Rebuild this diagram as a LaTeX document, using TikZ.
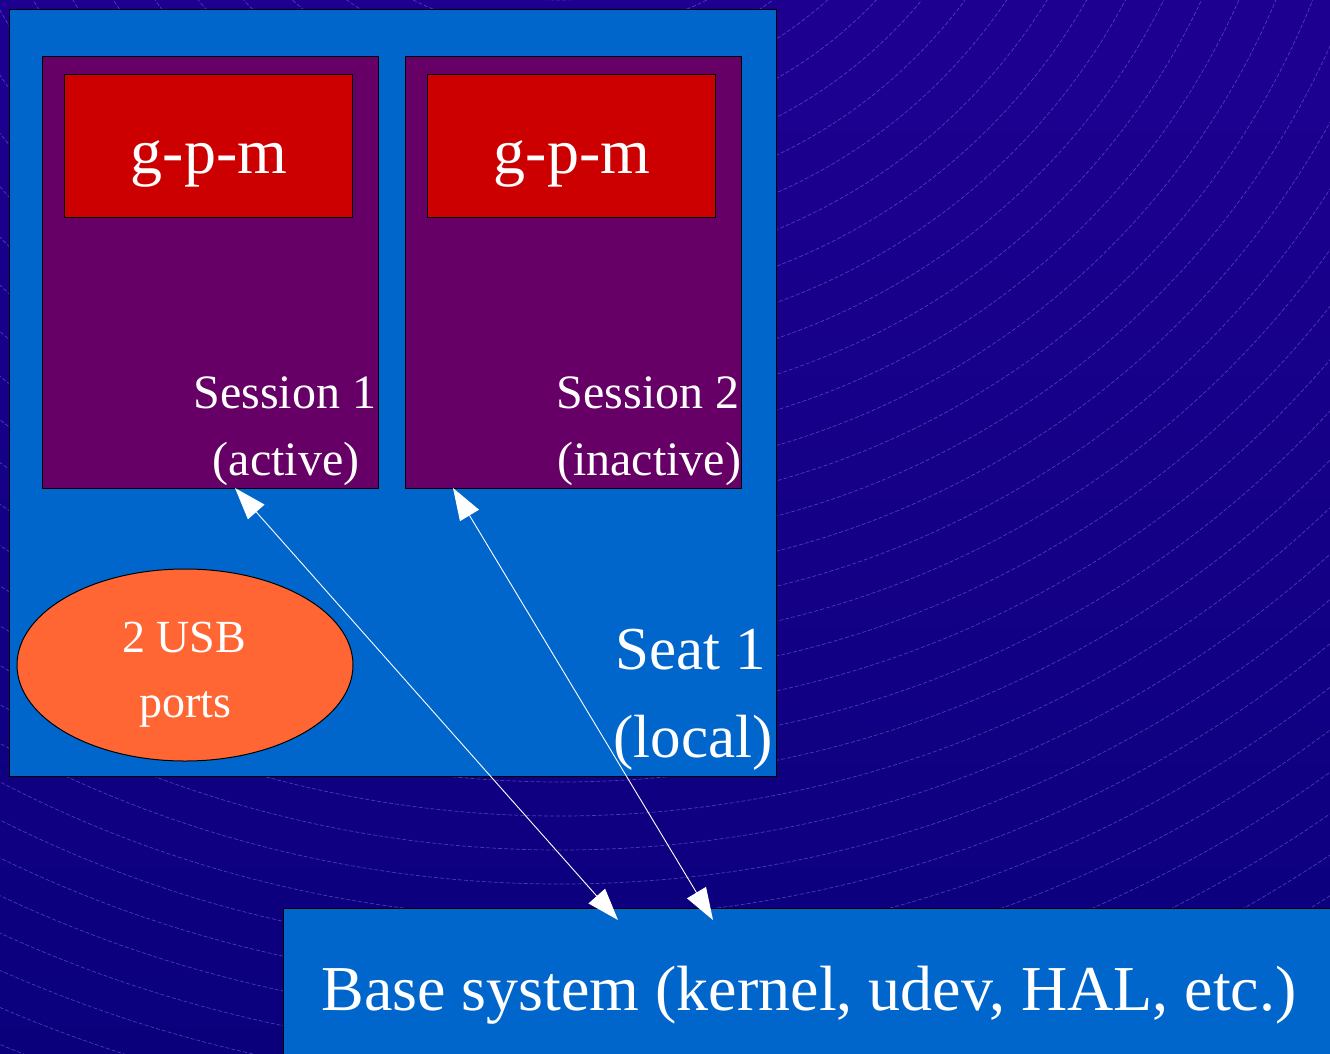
\documentclass[tikz,border=0pt]{standalone}
\usepackage{fontspec}
\setmainfont{Liberation Serif}
\usetikzlibrary{arrows.meta,shapes.geometric}

\definecolor{seatblue}{HTML}{0066CC}
\definecolor{sessionpurple}{HTML}{660066}
\definecolor{gpmred}{HTML}{CC0000}
\definecolor{usborange}{HTML}{FF6633}
\definecolor{bgtop}{RGB}{30,0,145}
\definecolor{bgbottom}{RGB}{10,0,124}
\definecolor{ripple}{RGB}{150,130,230}

\tikzset{
  panel/.style={draw=black, line width=1pt, inner sep=0pt, outer sep=0pt, anchor=north west},
  seatbox/.style={panel, fill=seatblue},
  sessionbox/.style={panel, fill=sessionpurple, minimum width=336pt, minimum height=432pt},
  gpmbox/.style={panel, fill=gpmred, minimum width=288pt, minimum height=143pt},
  usbport/.style={ellipse, draw=black, line width=1pt, fill=usborange, inner sep=0pt,
    minimum width=336pt, minimum height=192pt},
  whitetext/.style={text=white, inner sep=0pt, anchor=base},
  gpmtext/.style={whitetext, font=\fontsize{64}{70}\selectfont},
  sessiontext/.style={whitetext, font=\fontsize{48}{54}\selectfont},
  usbtext/.style={whitetext, font=\fontsize{46}{52}\selectfont},
  seattext/.style={whitetext, font=\fontsize{61}{68}\selectfont},
  basetext/.style={whitetext, font=\fontsize{64}{70}\selectfont},
  link/.style={draw=white, line width=0.9pt,
    {Triangle[length=32pt,width=22pt]}-{Triangle[length=32pt,width=22pt]}},
  rippleline/.style={draw=ripple, draw opacity=0.45, line width=0.7pt,
    dash pattern=on 4pt off 2pt}
}

\begin{document}
\begin{tikzpicture}[x=1pt, y=-1pt]
  \useasboundingbox (0,0) rectangle (1330,1053);
  \clip (0,0) rectangle (1330,1053);

  % backdrop with faint ripples
  \fill[top color=bgtop, bottom color=bgbottom] (0,0) rectangle (1330,1053);
  \foreach \r in {300,334,...,1640}
    \draw[rippleline] (560,-300) circle[radius=\r pt];

  % seat with its two sessions
  \node[seatbox, minimum width=767pt, minimum height=767pt] (seat) at (9,9) {};
  \node[sessionbox] (s1) at (42,56) {};
  \node[sessionbox] (s2) at (405,56) {};
  \node[gpmbox] (g1) at (64,74) {};
  \node[gpmbox] (g2) at (427,74) {};
  \node[gpmtext] (g1t) at (209,173) {g-p-m};
  \node[gpmtext] (g2t) at (572,173) {g-p-m};

  \node[sessiontext] (s1a) at (285,408) {Session 1};
  \node[sessiontext] (s1b) at (286,475) {(active)};
  \node[sessiontext] (s2a) at (648,408) {Session 2};
  \node[sessiontext] (s2b) at (649,475) {(inactive)};

  \node[usbport] (usb) at (185,665) {};
  \node[usbtext] (usba) at (184,652) {2 USB};
  \node[usbtext] (usbb) at (185,717) {ports};

  \node[seattext] (seata) at (691,669) {Seat 1};
  \node[seattext] (seatb) at (693,757) {(local)};

  % base system
  \node[seatbox, minimum width=1100pt, minimum height=200pt] (base) at (283,908) {};
  \node[basetext] (baset) at (809,1010) {Base system (kernel, udev, HAL, etc.)};

  % links between sessions and the base system
  \coordinate (s1port) at (235,488);
  \coordinate (s2port) at (453,488);
  \coordinate (b1port) at (618,920);
  \coordinate (b2port) at (713,920);
  \draw[link] (s1port) -- (b1port);
  \draw[link] (s2port) -- (b2port);
\end{tikzpicture}
\end{document}
